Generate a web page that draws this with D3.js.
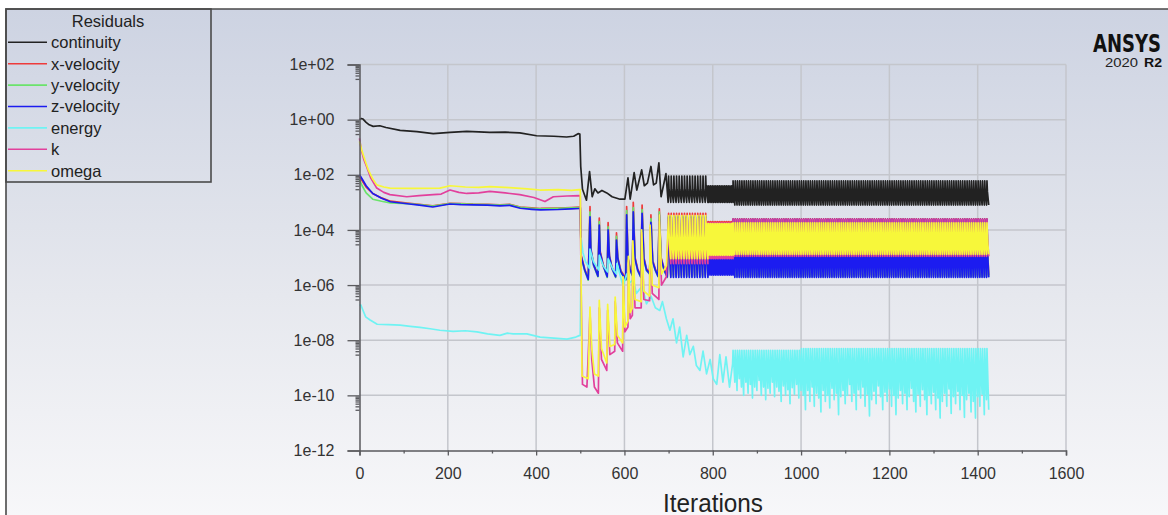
<!DOCTYPE html>
<html><head>
<meta charset="utf-8">
<title>Residuals</title>
<script src="https://d3js.org/d3.v7.min.js"></script>
<style>
body {
    margin: 0;
    background: #fff;
    font-family: "Liberation Sans", Arial, sans-serif;
}
</style>
</head>
<body>
<svg id="chart" width="1168" height="515"></svg>
<script>
// ---- data ----
const seriesNames = ["continuity", "x-velocity", "y-velocity", "z-velocity", "energy", "k", "omega"];
const seriesColors = ["#222222", "#ee3b3b", "#6be36b", "#1c1cf0", "#6ff3f3", "#e2409c", "#f7f73a"];

const iterTicks = [0, 200, 400, 600, 800, 1000, 1200, 1400, 1600];
const iterMinor = [100, 300, 500, 700, 900, 1100, 1300, 1500];
const resTicks = [1e2, 1e0, 1e-2, 1e-4, 1e-6, 1e-8, 1e-10, 1e-12];
const resLabels = ["1e+02", "1e+00", "1e-02", "1e-04", "1e-06", "1e-08", "1e-10", "1e-12"];

// start-up + transient part: [iteration, residual]
const continuity = [[0,1.0],[4,1.1],[8,1.05],[15,0.8],[22,0.65],[31,0.57],[46,0.6],[60,0.52],[92,0.41],[130,0.37],
  [167,0.31],[205,0.345],[243,0.375],[270,0.36],[295,0.345],[330,0.35],[363,0.33],[401,0.26],[440,0.25],[469,0.235],
  [485,0.25],[495,0.31],[499,0.3],[501,0.02],[505,3e-3],[514,1.2e-3],[521,1.3e-2],[527,1.6e-3],[533,3.1e-3],[540,2.2e-3],
  [549,2.7e-3],[560,2.2e-3],[572,1.6e-3],[590,1.3e-3],[601,1.3e-3],[608,7.8e-3],[613,1.3e-3],[622,1.2e-2],[628,2.8e-3],
  [639,1.5e-2],[645,4e-3],[652,5e-3],[660,2e-2],[666,4.3e-3],[672,5e-3],[678,2.7e-2],[683,1.6e-3],[694,1.1e-2],[699,1e-3]];

const xVelocity = [[0,8.7e-3],[6,6e-3],[15,3.6e-3],[30,2.1e-3],[50,1.45e-3],[70,1.1e-3],[108,9.5e-4],[140,8.3e-4],
  [166,7.4e-4],[205,9.2e-4],[230,9e-4],[257,8.6e-4],[290,8.5e-4],[318,8.2e-4],[340,8.5e-4],[364,6.8e-4],[390,6.3e-4],
  [410,6e-4],[450,6.2e-4],[480,6.5e-4],[498,6.7e-4],
  [500,6.7e-4],[502,1.2e-5],[510,3.8e-6],[518,1.8e-6],[522,7e-4],[524,2.1e-5],[530,6e-6],[540,2.3e-6],[543,2.7e-4],
  [545,1.7e-5],[552,5.5e-6],[561,2.2e-6],[563,1.85e-4],[566,1.2e-5],[572,4.4e-6],[580,2.2e-6],[582,7.9e-5],[585,1e-5],
  [592,3.3e-6],[603,1.8e-6],[605,7e-4],[608,1e-5],[613,3.9e-6],[618,2.5e-6],[620,1e-3],[624,1e-5],[630,3.9e-6],
  [637,2.2e-6],[640,8e-4],[644,1e-5],[650,3.9e-6],[657,2.9e-6],[660,3.5e-4],[664,7.7e-6],[670,3.9e-6],[676,2.3e-6],
  [679,5.8e-4],[683,1e-5],[690,3.9e-6],[697,2.2e-6]];

const yVelocity = [[0,6.6e-3],[6,4e-3],[15,2.2e-3],[30,1.3e-3],[50,1.1e-3],[70,9.5e-4],[108,9e-4],[140,8.2e-4],
  [166,7.3e-4],[205,9e-4],[230,8.8e-4],[257,8.5e-4],[290,8.3e-4],[318,7.9e-4],[340,8.3e-4],[364,6.6e-4],[390,6.1e-4],
  [410,5.8e-4],[450,6e-4],[480,6.3e-4],[498,6.5e-4],
  [500,6.5e-4],[502,1e-5],[510,3.3e-6],[518,1.5e-6],[522,4.5e-4],[524,1.8e-5],[530,5.2e-6],[540,2e-6],[543,2e-4],
  [545,1.4e-5],[552,4.8e-6],[561,1.9e-6],[563,1.3e-4],[566,1e-5],[572,3.8e-6],[580,1.9e-6],[582,5.8e-5],[585,8.5e-6],
  [592,2.9e-6],[603,1.5e-6],[605,5e-4],[608,8.5e-6],[613,3.3e-6],[618,2.2e-6],[620,6.5e-4],[624,8.5e-6],[630,3.3e-6],
  [637,1.9e-6],[640,5.5e-4],[644,8.5e-6],[650,3.3e-6],[657,2.5e-6],[660,2.6e-4],[664,6.6e-6],[670,3.3e-6],[676,2e-6],
  [679,4.5e-4],[683,8.5e-6],[690,3.3e-6],[697,1.9e-6]];

const zVelocity = [[0,1e-2],[6,7e-3],[15,4e-3],[30,2.1e-3],[50,1.4e-3],[70,1.05e-3],[108,8.9e-4],[140,7.8e-4],
  [166,6.8e-4],[205,8.7e-4],[230,8.3e-4],[257,8.1e-4],[290,7.9e-4],[318,7.4e-4],[340,7.8e-4],[364,6.1e-4],[390,5.6e-4],
  [410,5.3e-4],[450,5.5e-4],[480,5.8e-4],[498,6e-4],
  [500,6e-4],[502,1.1e-5],[510,3.5e-6],[518,1.6e-6],[522,3e-4],[524,1.9e-5],[530,5.5e-6],[540,2.1e-6],[543,1.5e-4],
  [545,1.5e-5],[552,5e-6],[561,2e-6],[563,1e-4],[566,1.1e-5],[572,4e-6],[580,2e-6],[582,4.3e-5],[585,9e-6],
  [592,3e-6],[603,1.6e-6],[605,3.5e-4],[608,9e-6],[613,3.5e-6],[618,2.3e-6],[620,4.5e-4],[624,9e-6],[630,3.5e-6],
  [637,2e-6],[640,4e-4],[644,9e-6],[650,3.5e-6],[657,2.6e-6],[660,1.9e-4],[664,7e-6],[670,3.5e-6],[676,2.1e-6],
  [679,3.5e-4],[683,9e-6],[690,3.5e-6],[697,2e-6]];

const energy = [[0,1.85e-7],[3,1.9e-7],[8,1.2e-7],[14,7e-8],[24,5.4e-8],[40,3.8e-8],[65,3.7e-8],[92,3.5e-8],
  [115,3.2e-8],[137,2.9e-8],[160,2.6e-8],[182,2.3e-8],[212,2.1e-8],[240,2.2e-8],[266,2e-8],[290,1.7e-8],[318,1.5e-8],
  [335,1.8e-8],[348,1.7e-8],[379,1.7e-8],[409,1.3e-8],[440,1.2e-8],[470,1.1e-8],[490,1.3e-8],[499,1.5e-8],
  [500,1.5e-8],[502,5e-5],[506,1.5e-5],[512,7e-6],[521,4e-6],[522,2e-5],[530,7e-6],[542,3.5e-6],[543,1.2e-5],
  [552,5e-6],[562,3e-6],[563,9e-6],[575,3.5e-6],[582,2.5e-6],[583,6e-6],[597,9e-7],[605,2.5e-6],[612,1.2e-6],
  [620,1.6e-6],[627,5e-7],[640,9e-7],[650,2.1e-7],[660,4e-7],[670,1.5e-7],[680,1.2e-7],[686,2.5e-7],[695,6e-8],
  [703,2.3e-8],[710,6e-8],[718,8e-9],[725,3e-8],[733,2.5e-9],[741,1.5e-8],[748,3e-9],[756,6e-9],[763,1.2e-9],
  [771,8e-10],[778,4e-9],[786,6e-10],[794,2e-9],[801,4e-10],[809,2.5e-10],[816,3e-9],[823,3e-10],[830,2.5e-9],
  [838,2e-10],[845,1.4e-9]];

const kRes = [[0,0.21],[4,0.08],[10,0.035],[16,0.02],[25,8e-3],[39,3.3e-3],[55,2.3e-3],[69,1.9e-3],[107,1.6e-3],
  [135,1.75e-3],[167,1.9e-3],[185,2e-3],[205,2.8e-3],[225,2.3e-3],[243,2.1e-3],[270,2.2e-3],[295,2.5e-3],[330,2.2e-3],
  [363,1.9e-3],[395,1.5e-3],[420,1.07e-3],[439,1.6e-3],[470,1.7e-3],[498,1.75e-3],
  [500,1.7e-3],[502,5e-7],[505,2.5e-10],[515,2e-10],[522,1e-7],[526,2e-9],[532,2e-10],[541,1.2e-10],[543,1.5e-7],
  [548,2e-9],[560,8e-10],[562,1.2e-7],[567,3e-9],[578,4e-9],[579,2.5e-7],[584,8e-9],[596,4e-9],[597,1.5e-6],
  [601,2e-8],[608,3e-8],[609,8e-6],[613,6e-8],[618,8e-8],[619,3e-5],[624,1.5e-7],[638,1.5e-7],[639,8e-5],[644,3e-7],
  [657,2.7e-7],[658,1.2e-4],[663,5e-7],[678,3e-7],[679,2e-4],[684,1e-6],[695,2e-6]];

const omega = [[0,0.16],[5,0.08],[12,0.035],[20,0.015],[30,7e-3],[39,4.3e-3],[55,3.6e-3],[69,3.3e-3],[120,3.2e-3],
  [182,3.3e-3],[205,4e-3],[240,3.6e-3],[270,3.5e-3],[295,3.7e-3],[340,3.4e-3],[380,3.1e-3],[409,2.8e-3],[450,2.9e-3],
  [480,2.7e-3],[498,2.9e-3],
  [500,2.9e-3],[502,1e-6],[504,5e-10],[518,4e-10],[522,1.6e-7],[526,5e-9],[532,6e-10],[541,5e-10],[543,2.8e-7],
  [548,5e-9],[560,1.5e-9],[562,2e-7],[567,6e-9],[578,7e-9],[579,3.7e-7],[584,1.5e-8],[596,8e-9],[597,2e-6],
  [601,3e-8],[608,5e-8],[609,1.1e-5],[613,1e-7],[618,1.5e-7],[619,4e-5],[624,3e-7],[638,2.5e-7],[639,1e-4],[644,6e-7],
  [657,4e-7],[658,1.5e-4],[663,1e-6],[678,8e-7],[679,3.5e-4],[684,2.5e-6],[695,5e-6]];

// time-step blocks of the periodic part: [first iteration, end, iterations per step]
const stepBlocks = [[700, 787, 6], [787, 846, 4], [846, 1001, 5], [1001, 1426, 5]];

// shape of one time step in each block: [offset in step, residual]
const contStep = [[[0,9e-3],[1,3e-3],[5,1e-3]], [[0,4e-3],[1,2e-3],[3,1e-3]],
                  [[0,6e-3],[1,2.5e-3],[4,8e-4]], [[0,6e-3],[1,2.5e-3],[4,8e-4]]];
const xVelStep = [[[0,4e-4],[1,5e-5],[3,1e-5],[5,2.3e-6]], [[0,2e-4],[1,3e-5],[3,2.8e-6]],
                  [[0,2.5e-4],[1,4.5e-5],[2,1.2e-5],[4,2.3e-6]], [[0,2.5e-4],[1,4.5e-5],[2,1.2e-5],[4,2.3e-6]]];
const yVelStep = [[[0,3e-4],[1,4e-5],[3,9e-6],[5,2e-6]], [[0,1.6e-4],[1,2.5e-5],[3,2.5e-6]],
                  [[0,2.2e-4],[1,3.8e-5],[2,1e-5],[4,2e-6]], [[0,2.2e-4],[1,3.8e-5],[2,1e-5],[4,2e-6]]];
const zVelStep = [[[0,3e-4],[1,4e-5],[3,8e-6],[5,1.9e-6]], [[0,1.5e-4],[1,2e-5],[3,2.3e-6]],
                  [[0,2.4e-4],[1,4e-5],[2,1e-5],[4,1.9e-6]], [[0,2.4e-4],[1,4e-5],[2,1e-5],[4,1.9e-6]]];
const kStep     = [[[0,2.6e-4],[1,5e-5],[3,1.2e-5],[5,6e-6]], [[0,1.8e-4],[1,3.5e-5],[3,9e-6]],
                  [[0,2.4e-4],[1,5e-5],[4,1.1e-5]], [[0,2.4e-4],[1,5e-5],[4,1.1e-5]]];
const omegaStep = [[[0,3.3e-4],[1,8e-5],[3,2e-5],[5,9e-6]], [[0,1.7e-4],[1,5e-5],[3,1.2e-5]],
                  [[0,1.8e-4],[1,6.5e-5],[2,3e-5],[4,1.3e-5]], [[0,1.8e-4],[1,6.5e-5],[2,3e-5],[4,1.3e-5]]];

// energy: peak per block and the low point of every step
const energyPeak = [null, null, 4.3e-9, 5e-9];
const energyLow846 = [3e-10,1.5e-10,4e-10,2e-10,1e-10,3e-10,1.2e-10,2.5e-10,8e-11,2e-10,1.5e-10,3.5e-10,1e-10,2e-10,
  7e-11,1.8e-10,1.2e-10,3e-10,9e-11,2e-10,1.4e-10,6e-11,2.2e-10,1e-10,1.6e-10,5e-11,1.9e-10,1.1e-10,2.5e-10,8e-11,1.5e-10];
const energyLow1001 = [1e-10,3e-11,1.5e-10,6e-11,2e-10,4e-11,1.2e-10,8e-11,2.5e-11,1.5e-10,
  6e-11,1e-10,3.5e-11,1.8e-10,7e-11,1.2e-10,2e-11,9e-11,1.5e-10,5e-11,
  1e-10,2.5e-10,6e-11,1.2e-10,3e-11,1.6e-10,8e-11,2e-10,4e-11,1.1e-10,
  1.8e-11,7e-11,1.4e-10,5e-11,2.2e-10,9e-11,3e-11,1.3e-10,6e-11,1.7e-10,
  4e-11,1e-10,2e-11,8e-11,1.5e-10,5e-11,1.2e-10,3e-11,9e-11,1.8e-10,
  6e-11,2.5e-11,1.1e-10,4e-11,1.6e-10,7e-11,2e-11,1e-10,5e-11,1.3e-10,
  3e-11,8e-11,1.5e-11,6e-11,1.2e-10,4e-11,1.7e-10,2.2e-11,9e-11,5e-11,
  1.4e-10,3e-11,1e-10,1.6e-11,7e-11,1.2e-10,2.5e-11,6e-11,1.5e-11,9e-11,
  4e-11,1.1e-10,2e-11,7e-11,3e-11];
const energyLows = [null, null, energyLow846, energyLow1001];

// ---- layout ----
const svg = d3.select("#chart");
const x = d3.scaleLinear().domain([0, 1600]).range([359.5, 1066]);
const y = d3.scaleLog().domain([1e2, 1e-12]).range([64.5, 450.5]);

// append the periodic steps to a series
function withSteps(points, shapes) {
    const out = points.slice();
    stepBlocks.forEach((b, bi) => {
        if (!shapes[bi]) return;
        d3.range(b[0], b[1], b[2]).forEach((s, si) => {
            const shape = typeof shapes[bi] === "function" ? shapes[bi](si) : shapes[bi];
            shape.forEach(p => out.push([s + p[0], p[1]]));
        });
    });
    return out;
}

const energyShapes = stepBlocks.map((b, bi) => energyPeak[bi] === null ? null :
    (si => [[0, energyPeak[bi]], [4, energyLows[bi][si]]]));

const series = [
    withSteps(continuity, contStep),
    withSteps(xVelocity, xVelStep),
    withSteps(yVelocity, yVelStep),
    withSteps(zVelocity, zVelStep),
    withSteps(energy, energyShapes),
    withSteps(kRes, kStep),
    withSteps(omega, omegaStep)
];

// background window
const defs = svg.append("defs");
const grad = defs.append("linearGradient").attr("id", "bg")
    .attr("x1", 0).attr("y1", 0).attr("x2", 0).attr("y2", 1);
grad.append("stop").attr("offset", "0%").attr("stop-color", "#cdd3e2");
grad.append("stop").attr("offset", "55%").attr("stop-color", "#e6e8ee");
grad.append("stop").attr("offset", "100%").attr("stop-color", "#f8f8fa");

svg.append("rect").attr("x", 6).attr("y", 9).attr("width", 1170).attr("height", 520)
    .attr("fill", "url(#bg)");
svg.append("path").attr("d", "M6,520 V9 H1170")
    .attr("fill", "none").attr("stroke", "#4a4a4a").attr("stroke-width", 1.6);

// grid
const grid = svg.append("g");
grid.selectAll("line.v").data(iterTicks.slice(1)).join("line")
    .attr("class", "v")
    .attr("x1", d => x(d)).attr("x2", d => x(d))
    .attr("y1", y(1e2)).attr("y2", y(1e-12))
    .attr("stroke", "#c4c6cc").attr("stroke-width", 1.5);
grid.selectAll("line.h").data(resTicks.slice(0, -1)).join("line")
    .attr("class", "h")
    .attr("x1", x(0)).attr("x2", x(1600))
    .attr("y1", d => y(d)).attr("y2", d => y(d))
    .attr("stroke", "#c4c6cc").attr("stroke-width", 1.5);

// residual lines
const line = d3.line().x(d => x(d[0])).y(d => y(d[1]));
svg.append("g").selectAll("path").data(series).join("path")
    .attr("d", line)
    .attr("fill", "none")
    .attr("stroke", (d, i) => seriesColors[i])
    .attr("stroke-width", 1.7)
    .attr("stroke-linejoin", "round");

// axes
const minorY = [];
resTicks.slice(0, -1).forEach(t => [9, 8, 7, 6, 5, 4, 3].forEach(m => minorY.push(t / 10 * m)));

const yAxis = svg.append("g").attr("transform", "translate(" + x(0) + ",0)")
    .call(d3.axisLeft(y).tickValues(resTicks).tickSize(12).tickPadding(13)
        .tickFormat((d, i) => resLabels[i]));
const yMinor = svg.append("g").attr("transform", "translate(" + x(0) + ",0)")
    .call(d3.axisLeft(y).tickValues(minorY).tickSize(4).tickFormat(""));
const xAxis = svg.append("g").attr("transform", "translate(0," + y(1e-12) + ")")
    .call(d3.axisBottom(x).tickValues(iterTicks).tickSize(5).tickPadding(12)
        .tickFormat(d => String(d)));
const xMinor = svg.append("g").attr("transform", "translate(0," + y(1e-12) + ")")
    .call(d3.axisBottom(x).tickValues(iterMinor).tickSize(3).tickFormat(""));

[yAxis, yMinor, xAxis, xMinor].forEach(g => {
    g.select(".domain").attr("stroke", "#5a5a5e").attr("stroke-width", 1.5);
    g.selectAll(".tick line").attr("stroke", "#5a5a5e").attr("stroke-width", 1.3);
    g.selectAll(".tick text").attr("fill", "#333").attr("font-size", 16)
        .attr("font-family", "'Liberation Sans', Arial, sans-serif");
});
yMinor.select(".domain").remove();
xMinor.select(".domain").remove();

svg.append("text").attr("x", 713).attr("y", 511.5)
    .attr("text-anchor", "middle").attr("font-size", 25.5)
    .attr("textLength", 100).attr("lengthAdjust", "spacingAndGlyphs")
    .attr("fill", "#222").text("Iterations");

// legend
const legend = svg.append("g");
legend.append("rect").attr("x", 6).attr("y", 9).attr("width", 205).attr("height", 173)
    .attr("fill", "none").attr("stroke", "#4a4a4a").attr("stroke-width", 1.6);
legend.append("text").attr("x", 108).attr("y", 26.5).attr("text-anchor", "middle")
    .attr("font-size", 16.5).attr("fill", "#222").text("Residuals");
const rows = legend.selectAll("g.row").data(seriesNames).join("g")
    .attr("class", "row")
    .attr("transform", (d, i) => "translate(0," + (42.3 + i * 21.4) + ")");
rows.append("line").attr("x1", 8).attr("x2", 47).attr("y1", 0).attr("y2", 0)
    .attr("stroke", (d, i) => seriesColors[i]).attr("stroke-width", 1.6);
rows.append("text").attr("x", 51).attr("y", 5.8).attr("font-size", 16.5)
    .attr("fill", "#222").text(d => d);

// logo, squeezed horizontally to the narrow brand lettering
function squeezed(txt, left, base, width, size, weight) {
    const g = svg.append("g");
    const t = g.append("text").attr("x", 0).attr("y", 0)
        .attr("font-size", size).attr("font-weight", weight).attr("fill", "#111")
        .text(txt);
    const w = t.node().getComputedTextLength();
    g.attr("transform", "translate(" + left + "," + base + ") scale(" + (width / w) + ",1)");
    return t;
}
squeezed("ANSYS", 1093, 51.5, 69, 24, "bold")
    .attr("font-family", "'DejaVu Sans Condensed', 'Liberation Sans', sans-serif");
squeezed("2020", 1105, 66.5, 33, 12.5, "normal").attr("fill", "#222");
squeezed("R2", 1144, 66.5, 18, 12.5, "bold");
</script>
</body>
</html>
